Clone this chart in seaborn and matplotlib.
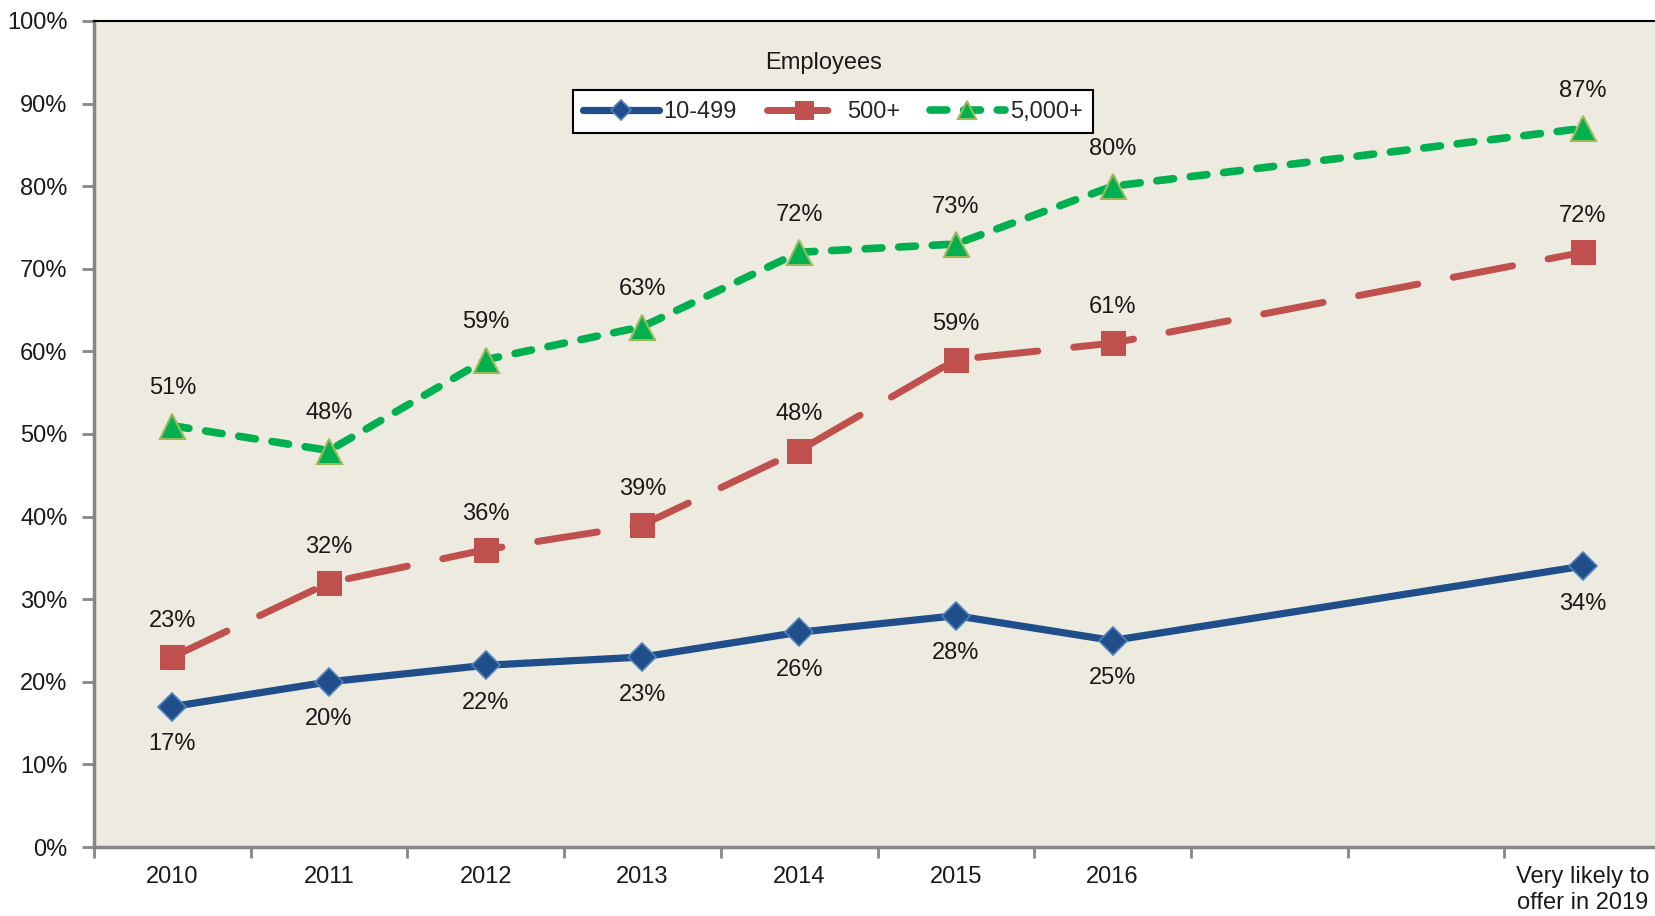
import numpy as np
import pandas as pd
import matplotlib
matplotlib.use("Agg")
import matplotlib.pyplot as plt
import seaborn as sns

# ---- data ----
categories = ["2010", "2011", "2012", "2013", "2014", "2015", "2016", "", "", "Very likely to\noffer in 2019"]
x_points = [0, 1, 2, 3, 4, 5, 6, 9]
small = [17, 20, 22, 23, 26, 28, 25, 34]        # 10-499
mid = [23, 32, 36, 39, 48, 59, 61, 72]          # 500+
large = [51, 48, 59, 63, 72, 73, 80, 87]        # 5,000+
series_names = ["10-499", "500+", "5,000+"]
yticks = [0, 10, 20, 30, 40, 50, 60, 70, 80, 90, 100]

sns.set_theme(style="white")
plt.rcParams["font.family"] = ["Liberation Sans", "DejaVu Sans"]

fig = plt.figure(figsize=(16.55, 9.16), dpi=100)
ax = fig.add_axes([94 / 1655, 1 - 847 / 916, 1567 / 1655, 826 / 916])
ax.set_facecolor("#EDEAE0")

FS = 17
TXT = "#1a1a1a"

blue = "#1F4E8A"
red = "#C0504D"
green = "#00B050"

df = pd.DataFrame({"x": x_points, "small": small, "mid": mid, "large": large})

sns.lineplot(data=df, x="x", y="small", ax=ax, color=blue, linewidth=5.2,
             marker="D", markersize=14, markerfacecolor=blue, markeredgecolor="#4F81BD",
             markeredgewidth=1.2, sort=False, label=series_names[0],
             solid_capstyle="round")
sns.lineplot(data=df, x="x", y="mid", ax=ax, color=red, linewidth=5,
             linestyle=(0, (8.7, 5.2)), dash_capstyle="round",
             marker="s", markersize=17, markerfacecolor=red, markeredgecolor=red,
             sort=False, label=series_names[1])
sns.lineplot(data=df, x="x", y="large", ax=ax, color=green, linewidth=5.5,
             linestyle=(0, (2.2, 2.2)), dash_capstyle="round",
             marker="^", markersize=18, markerfacecolor=green, markeredgecolor="#9BBB59",
             markeredgewidth=1.5, sort=False, label=series_names[2])

# data labels
for xv, v in zip(x_points, small):
    ax.annotate(f"{v}%", (xv, v), xytext=(0, -27), textcoords="offset points",
                ha="center", va="center", fontsize=FS, color=TXT)
for xv, v in zip(x_points, mid):
    ax.annotate(f"{v}%", (xv, v), xytext=(0, 26), textcoords="offset points",
                ha="center", va="center", fontsize=FS, color=TXT)
for xv, v in zip(x_points, large):
    ax.annotate(f"{v}%", (xv, v), xytext=(0, 27), textcoords="offset points",
                ha="center", va="center", fontsize=FS, color=TXT)

# axes
ax.set_xlim(-0.5, 9.5)
ax.set_ylim(0, 100)
ax.set_yticks(yticks)
ax.set_yticklabels([f"{t}%" for t in yticks], fontsize=FS, color=TXT)
ax.set_xticks(range(len(categories)))
ax.set_xticklabels(categories, fontsize=FS, color=TXT, va="top", linespacing=1.2)
ax.set_xticks(np.arange(-0.5, 9.0, 1.0), minor=True)
ax.tick_params(axis="x", which="major", length=0, pad=14)
ax.tick_params(axis="x", which="minor", length=8, width=2, color="#868686", direction="out", bottom=True)
ax.tick_params(axis="y", which="major", length=9, width=2, color="#868686", direction="out", left=True, pad=10)
ax.set_xlabel("")
ax.set_ylabel("")
ax.grid(False)

for s in ["left", "bottom"]:
    ax.spines[s].set_color("#868686")
    ax.spines[s].set_linewidth(2.5)
ax.spines["top"].set_color("black")
ax.spines["top"].set_linewidth(1.5)
ax.spines["right"].set_visible(False)

# legend
handles, labels = ax.get_legend_handles_labels()
leg = ax.legend(handles, labels, loc="center", bbox_to_anchor=(0.4716, 0.89), ncol=3,
                fontsize=FS, frameon=True, fancybox=False, edgecolor="black",
                facecolor="white", framealpha=1, handlelength=3.2, handletextpad=0.2,
                columnspacing=1.25, borderpad=0.45, markerscale=0.75)
leg.get_frame().set_linewidth(1.5)
ax.text(0.4655, 0.949, "Employees", transform=ax.transAxes, ha="center", va="center",
        fontsize=FS, color=TXT)

fig.savefig("out.png", dpi=100, facecolor="white")
